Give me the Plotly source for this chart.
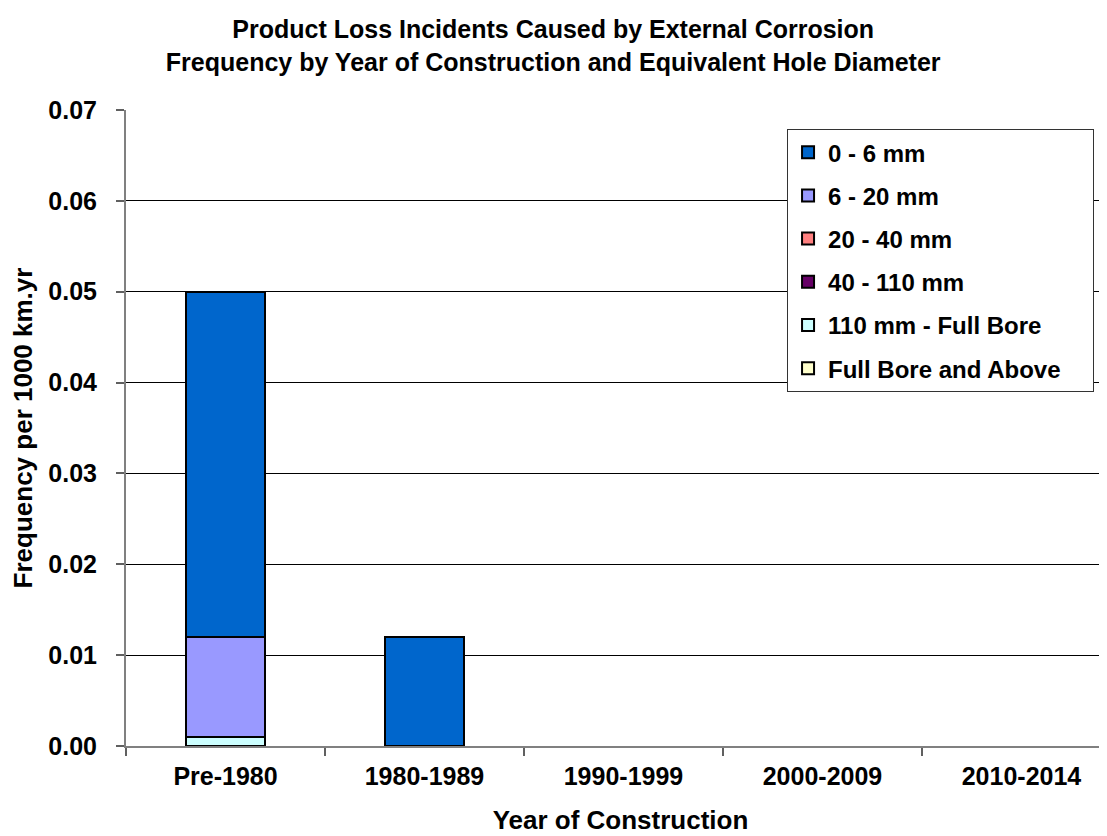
import plotly.graph_objects as go

categories = ["Pre-1980", "1980-1989", "1990-1999", "2000-2009", "2010-2014"]

# stacked from bottom to top
series_names = ["Full Bore and Above", "110 mm - Full Bore", "40 - 110 mm",
                "20 - 40 mm", "6 - 20 mm", "0 - 6 mm"]
full_bore_above = [0, 0, 0, 0, 0]
mm110_full = [0.001, 0, 0, 0, 0]
mm40_110 = [0, 0, 0, 0, 0]
mm20_40 = [0, 0, 0, 0, 0]
mm6_20 = [0.011, 0, 0, 0, 0]
mm0_6 = [0.038, 0.012, 0, 0, 0]

series_values = [full_bore_above, mm110_full, mm40_110, mm20_40, mm6_20, mm0_6]
colors = ["#FFFFCC", "#CCFFFF", "#660066", "#FF8080", "#9999FF", "#0066CC"]

font_family = "Liberation Sans, Arial, sans-serif"

fig = go.Figure()
n = len(series_names)
for i, (name, vals, col) in enumerate(zip(series_names, series_values, colors)):
    label = "<b>" + name + "</b>"
    if name == "Full Bore and Above":
        label += "&nbsp;" * 4
    fig.add_trace(go.Bar(
        x=categories,
        y=[v if v else None for v in vals],
        name=label,
        legendgroup=name,
        legendrank=n - i,
        marker=dict(color=col, line=dict(color="black", width=2)),
    ))

fig.update_layout(
    barmode="stack",
    bargap=0.603,
    width=1107, height=836,
    paper_bgcolor="white", plot_bgcolor="white",
    margin=dict(l=118, r=0, t=102, b=98, autoexpand=False),
    font=dict(family=font_family, color="black"),
    title=dict(
        text="<b>Product Loss Incidents Caused by External Corrosion<br>Frequency by Year of Construction and Equivalent Hole Diameter</b>",
        x=0.4925, xanchor="center", xref="container",
        y=1 - 30 / 836, yanchor="top", yref="container",
        font=dict(size=25, family=font_family),
    ),
    legend=dict(
        x=0.6684, y=0.970, xanchor="left", yanchor="top",
        traceorder="grouped", tracegroupgap=9,
        bgcolor="white", bordercolor="#333333", borderwidth=1,
        font=dict(size=24, family=font_family),
        itemwidth=30,
    ),
    showlegend=True,
)
fig.update_xaxes(
    title=dict(text="<b>Year of Construction</b>", font=dict(size=26), standoff=22),
    range=[-0.5, 4.47],
    tickfont=dict(size=25),
    tickprefix="<b>", ticksuffix="</b>",
    showline=True, linecolor="#808080", linewidth=2,
    ticks="outside", ticklen=8, tickcolor="#606060", tickwidth=1.5,
    tickson="boundaries",
    ticklabelstandoff=7,
    showgrid=False,
    automargin=False,
)
fig.update_yaxes(
    title=dict(text="<b>Frequency per 1000 km.yr</b>", font=dict(size=26), standoff=10),
    range=[0, 0.07], dtick=0.01, tickformat=".2f",
    tickfont=dict(size=25),
    tickprefix="<b>", ticksuffix="</b>",
    showline=True, linecolor="#808080", linewidth=2,
    ticks="outside", ticklen=8, tickcolor="#606060", tickwidth=1.5,
    ticklabelstandoff=14,
    showgrid=True, gridcolor="black", gridwidth=1,
    zeroline=False,
    automargin=False,
)

fig.write_html("out.html")
